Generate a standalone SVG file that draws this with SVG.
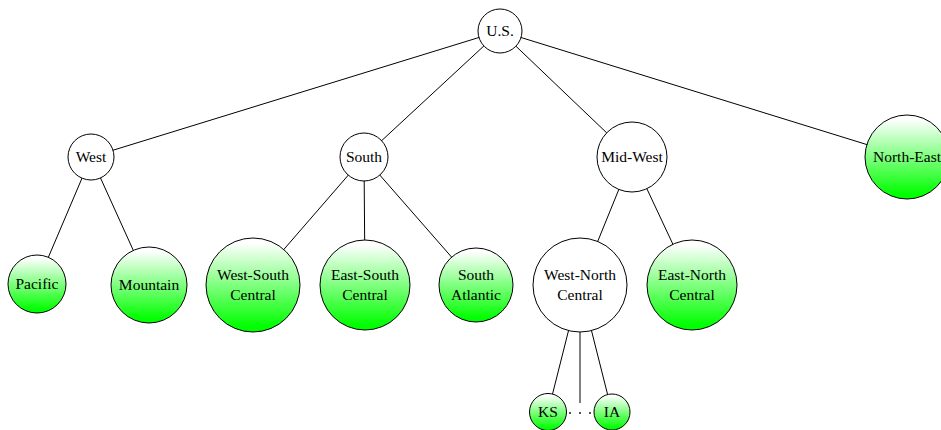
<svg xmlns="http://www.w3.org/2000/svg" width="941" height="430" viewBox="0 0 941 430">
<defs>
<linearGradient id="g" x1="0" y1="0" x2="0" y2="1">
<stop offset="0.05" stop-color="#ffffff"/>
<stop offset="0.95" stop-color="#00ff00"/>
</linearGradient>
<style>
.e{stroke:#000;stroke-width:1;fill:none}
.w{fill:#fff;stroke:#000;stroke-width:1}
.gr{fill:url(#g);stroke:#000;stroke-width:1}
text{font-family:"Liberation Serif","Times New Roman",serif;font-size:15.5px;fill:#000;text-anchor:middle}
</style>
</defs>
<rect width="941" height="430" fill="#fff"/>
<g id="connectors">
<line class="e" x1="500" y1="31" x2="91" y2="157"/>
<line class="e" x1="500" y1="31" x2="364" y2="157"/>
<line class="e" x1="500" y1="31" x2="632" y2="157"/>
<line class="e" x1="500" y1="31" x2="907" y2="157"/>
<line class="e" x1="91" y1="157" x2="37" y2="284"/>
<line class="e" x1="91" y1="157" x2="149" y2="285"/>
<line class="e" x1="364" y1="157" x2="253" y2="285"/>
<line class="e" x1="364" y1="157" x2="365" y2="285"/>
<line class="e" x1="364" y1="157" x2="476" y2="285"/>
<line class="e" x1="632" y1="157" x2="580" y2="285"/>
<line class="e" x1="632" y1="157" x2="692" y2="285"/>
<line class="e" x1="580" y1="285" x2="548" y2="412"/>
<line class="e" x1="580" y1="285" x2="612" y2="412"/>
<line class="e" x1="580" y1="285" x2="580" y2="403"/>
</g>
<g id="us"><circle class="w" cx="500" cy="31" r="22"/><text x="500" y="36">U.S.</text></g>
<g id="west"><circle class="w" cx="91" cy="157" r="23"/><text x="91" y="162">West</text></g>
<g id="south"><circle class="w" cx="364" cy="157" r="24"/><text x="364" y="162">South</text></g>
<g id="midwest"><circle class="w" cx="632" cy="157" r="35"/><text x="632" y="162">Mid-West</text></g>
<g id="northeast"><circle class="gr" cx="907" cy="157" r="42"/><text x="907" y="162">North-East</text></g>
<g id="pacific"><circle class="gr" cx="37" cy="284" r="29"/><text x="37" y="289">Pacific</text></g>
<g id="mountain"><circle class="gr" cx="149" cy="285" r="38"/><text x="149" y="290">Mountain</text></g>
<g id="wsc"><circle class="gr" cx="253" cy="285" r="47"/><text x="253" y="280">West-South</text><text x="253" y="300">Central</text></g>
<g id="esc"><circle class="gr" cx="365" cy="285" r="45"/><text x="365" y="280">East-South</text><text x="365" y="300">Central</text></g>
<g id="sa"><circle class="gr" cx="476" cy="285" r="37"/><text x="476" y="280">South</text><text x="476" y="300">Atlantic</text></g>
<g id="wnc"><circle class="w" cx="580" cy="285" r="47"/><text x="580" y="280">West-North</text><text x="580" y="300">Central</text></g>
<g id="enc"><circle class="gr" cx="692" cy="285" r="45"/><text x="692" y="280">East-North</text><text x="692" y="300">Central</text></g>
<g id="ks"><circle class="gr" cx="548" cy="412" r="18.5"/><text x="548" y="417">KS</text></g>
<g id="ia"><circle class="gr" cx="612" cy="412" r="18"/><text x="612" y="417">IA</text></g>
<g id="dots" fill="#000"><circle cx="570" cy="413" r="0.9"/><circle cx="580" cy="413" r="0.9"/><circle cx="590" cy="413" r="0.9"/></g>
</svg>
